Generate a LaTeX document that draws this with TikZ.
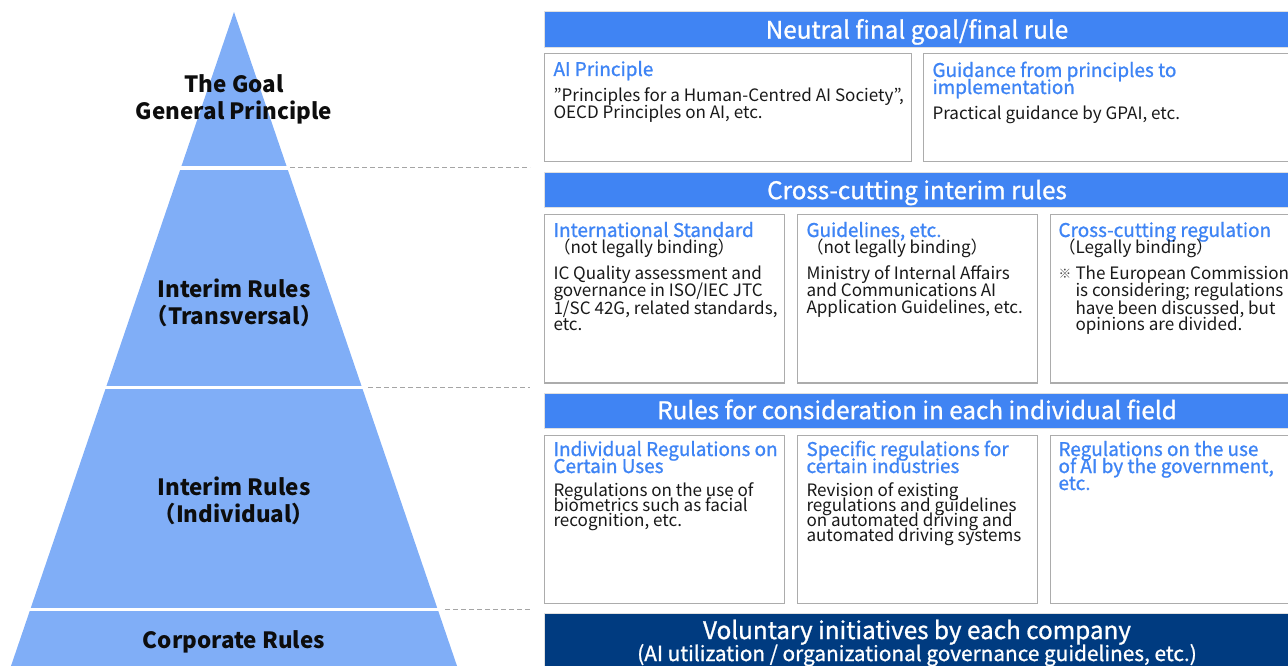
\documentclass[tikz,border=0pt]{standalone}
\usepackage{fontspec}
\setmainfont{Noto Sans CJK JP}
\newfontfamily\medfont[FakeBold=1]{Noto Sans CJK JP}

\definecolor{pyrblue}{RGB}{128,174,247}
\definecolor{barblue}{RGB}{64,132,243}
\definecolor{headblue}{RGB}{62,132,245}
\definecolor{navybar}{RGB}{0,59,128}
\definecolor{cellgray}{RGB}{172,172,172}
\definecolor{guidegray}{RGB}{165,165,165}

% let the baselineskip win over the natural line height
\newcommand{\tightlines}{\lineskiplimit=-20pt\relax}

\tikzset{every picture/.style={line width=0.75pt}}

\begin{document}
\begin{tikzpicture}[x=0.75pt,y=0.75pt,yscale=-1,xscale=1,
	lvl/.style={align=center, text=black!95, font=\bfseries\fontsize{16.8}{20.25}\selectfont\tightlines},
	bar/.style={fill=barblue, draw=black!12, text=white, minimum width=559.5pt, inner sep=0pt, align=center, font=\medfont\fontsize{18.2}{16.5}\selectfont\tightlines},
	hdr/.style={bar, text height=15pt, text depth=2pt},
	cell/.style={draw=cellgray, fill=white, inner sep=0pt},
	ttl/.style={anchor=base west, inner sep=0pt, align=left, text=headblue, font=\medfont\fontsize{14.2}{12.75}\selectfont\tightlines},
	txt/.style={anchor=base west, inner sep=0pt, align=left, text=black!90, font=\fontsize{12.8}{12.75}\selectfont\tightlines},
	guide/.style={draw=guidegray, dash pattern={on 3.75pt off 2.25pt}}]
	\useasboundingbox (0,0) rectangle (1288,666);
	\clip (0,0) rectangle (1288,666);

	%Pyramid
	\fill[pyrblue] (234,12) -- (472.7,712) -- (-4.7,712) -- cycle;
	%Level gaps and guide lines
	\foreach \y/\xs in {168/290, 387.5/368, 609.5/445} {
		\draw[white, line width=2.5pt] (0,\y) -- (\xs,\y);
		\draw[guide] (\xs,\y) -- (530,\y);
	}

	% Level labels
	\node[lvl] (goalLbl) at (234,99) {The Goal\\General Principle};
	\node[lvl] (transLbl) at (234,303) {Interim Rules\\（Transversal）};
	\node[lvl] (indivLbl) at (234,501) {Interim Rules\\（Individual）};
	\node[lvl] (corpLbl) at (234,642) {Corporate Rules};

	%Header bars
	\node[hdr, minimum height=27pt] (hdrGoal) at (917,30) {Neutral final goal/final rule};
	\node[hdr, minimum height=26.25pt] (hdrCross) at (917,190.5) {Cross-cutting interim rules};
	\node[hdr, minimum height=26.25pt] (hdrField) at (917,410.5) {Rules for consideration in each individual field};
	\node[bar, fill=navybar, minimum height=45pt] (voluntary) at (917,643) {Voluntary initiatives by each company\\{\fontsize{15.6}{16.5}\selectfont (AI utilization / organizational governance guidelines, etc.)}};

	%Final goal row (text nodes sit on their last baseline)
	\node[cell, minimum width=275.25pt, minimum height=81pt] (aiPrin) at (727.5,108) {};
	\node[cell, minimum width=282.75pt, minimum height=81pt] (guidance) at (1111.5,108) {};
	\node[ttl] (aiPrinT) at (553,76) {AI Principle};
	\node[txt] (aiPrinB) at (553,119) {”Principles for a Human-Centred AI Society”,\\OECD Principles on AI, etc.};
	\node[ttl] (guidanceT) at (932,94) {Guidance from principles to\\implementation};
	\node[txt] (guidanceB) at (932,120) {Practical guidance by GPAI, etc.};

	%Cross-cutting row
	\foreach \cx/\nm in {664/intStd, 917/guide, 1170/crossReg}
		\node[cell, minimum width=180pt, minimum height=126pt] (\nm) at (\cx,299) {};
	\node[ttl] (intStdT) at (553,237) {International Standard};
	\node[txt] (intStdN) at (553,254) {（not legally binding）};
	\node[txt] (intStdB) at (553,331) {IC Quality assessment and\\governance in ISO/IEC JTC\\1/SC 42G, related standards,\\etc.};
	\node[ttl] (guideT) at (806,237) {Guidelines, etc.};
	\node[txt] (guideN) at (806,254) {（not legally binding）};
	\node[txt] (guideB) at (806,314) {Ministry of Internal Affairs\\and Communications AI\\Application Guidelines, etc.};
	\node[ttl] (crossRegT) at (1058,237) {Cross-cutting regulation};
	\node[txt] (crossRegN) at (1058,254) {（Legally binding）};
	\node[txt, font=\fontsize{9.5}{11}\selectfont, text=black!70] (crossRegM) at (1058,279) {※};
	\node[txt] (crossRegB) at (1075,331) {The European Commission\\is considering; regulations\\have been discussed, but\\opinions are divided.};

	%Individual field row
	\foreach \cx/\nm in {664/useReg, 917/industry, 1170/govUse}
		\node[cell, minimum width=180pt, minimum height=126pt] (\nm) at (\cx,519) {};
	\node[ttl] (useRegT) at (553,473) {Individual Regulations on\\Certain Uses};
	\node[txt, font=\fontsize{12.8}{11.25}\selectfont\tightlines] (useRegB) at (553,526) {Regulations on the use of\\biometrics such as facial\\recognition, etc.};
	\node[ttl] (industryT) at (806,473) {Specific regulations for\\certain industries};
	\node[txt, font=\fontsize{12.8}{11.25}\selectfont\tightlines] (industryB) at (806,541) {Revision of existing\\regulations and guidelines\\on automated driving and\\automated driving systems};
	\node[ttl] (govUseT) at (1058,490) {Regulations on the use\\of AI by the government,\\etc.};

\end{tikzpicture}
\end{document}
